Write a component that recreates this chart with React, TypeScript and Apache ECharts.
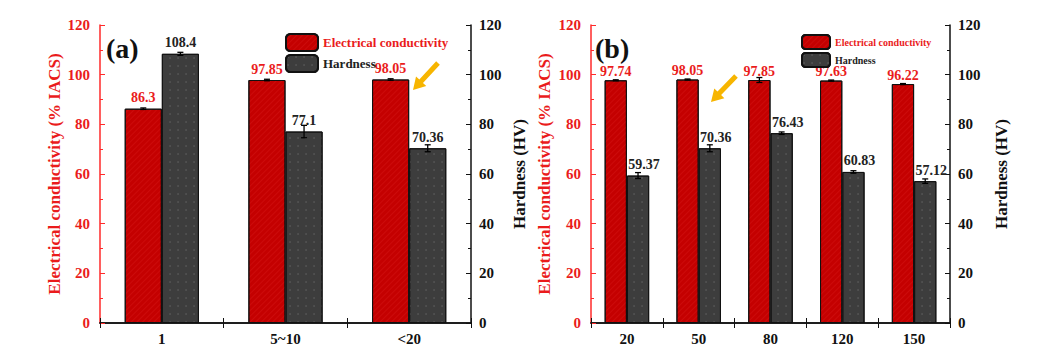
import React, { useEffect, useRef } from "react";
import * as echarts from "echarts";

const catsA = ["1", "5~10", "<20"];
const condA = [86.3, 97.85, 98.05];
const condErrA = [0.3, 0.3, 0.3];
const hardA = [108.4, 77.1, 70.36];
const hardErrA = [0.6, 2.5, 1.4];

const catsB = ["20", "50", "80", "120", "150"];
const condB = [97.74, 98.05, 97.85, 97.63, 96.22];
const condErrB = [0.2, 0.2, 1.0, 0.2, 0.2];
const hardB = [59.37, 70.36, 76.43, 60.83, 57.12];
const hardErrB = [1.2, 1.4, 0.5, 0.5, 0.9];

const yMin = 0;
const yMax = 120;
const yStep = 20;

const SERIF = "'Liberation Serif', 'Times New Roman', serif";
const RED_TXT = "#ea1c1c";
const RED_BAR = "#c40000";
const GREY_BAR = "#3d3d3d";

function arrowPoints(tx: number, ty: number, hx: number, hy: number) {
  const dx = hx - tx, dy = hy - ty;
  const L = Math.hypot(dx, dy);
  const ux = dx / L, uy = dy / L;
  const px = -uy, py = ux;
  const sw = 2.5, hw = 7, hl = 12;
  const bx = hx - ux * hl, by = hy - uy * hl;
  return [
    [tx + px * sw, ty + py * sw],
    [bx + px * sw, by + py * sw],
    [bx + px * hw, by + py * hw],
    [hx, hy],
    [bx - px * hw, by - py * hw],
    [bx - px * sw, by - py * sw],
    [tx - px * sw, ty - py * sw],
  ];
}

function mkErr(side: number, ratio: number) {
  return (params: any, api: any) => {
    const i = api.value(0), v = api.value(1), e = api.value(2);
    const c = api.coord([i, v]);
    const band = api.size([1, 0])[0];
    const x = c[0] + (side * band * ratio) / 2;
    const top = api.coord([i, v + e])[1];
    const bot = api.coord([i, v - e])[1];
    const cap = 3;
    const st = { stroke: "#000", lineWidth: 1.3 };
    return {
      type: "group",
      children: [
        { type: "line", shape: { x1: x, y1: top, x2: x, y2: bot }, style: st },
        { type: "line", shape: { x1: x - cap, y1: top, x2: x + cap, y2: top }, style: st },
        { type: "line", shape: { x1: x - cap, y1: bot, x2: x + cap, y2: bot }, style: st },
      ],
    };
  };
}

const greyDecal = {
  symbol: "circle",
  symbolSize: 0.35,
  color: "rgba(255,255,255,0.22)",
  dashArrayX: 4,
  dashArrayY: 4,
  rotation: 0,
};
const redDecal = {
  symbol: "rect",
  symbolSize: 1,
  color: "rgba(255,80,80,0.14)",
  dashArrayX: [1, 0],
  dashArrayY: [1, 3],
  rotation: -Math.PI / 4,
};

function yAxisLeft(gridIndex: number, nameGap: number) {
  return {
    type: "value",
    gridIndex,
    position: "left",
    min: yMin,
    max: yMax,
    interval: yStep,
    name: "Electrical conductivity (% IACS)",
    nameLocation: "middle",
    nameGap,
    nameRotate: 90,
    nameTextStyle: { color: RED_TXT, fontFamily: SERIF, fontWeight: "bold", fontSize: 17 },
    axisLine: { show: true, lineStyle: { color: "#ff2a2a", width: 1.5 } },
    axisTick: { show: true, inside: true, length: 5, lineStyle: { color: "#ff2a2a" } },
    minorTick: { show: true, splitNumber: 2, length: 3, lineStyle: { color: "#ff2a2a" } },
    axisLabel: { color: RED_TXT, fontFamily: SERIF, fontWeight: "bold", fontSize: 15, margin: 10 },
    splitLine: { show: false },
  };
}

function yAxisRight(gridIndex: number, nameGap: number) {
  return {
    type: "value",
    gridIndex,
    position: "right",
    min: yMin,
    max: yMax,
    interval: yStep,
    name: "Hardness (HV)",
    nameLocation: "middle",
    nameGap,
    nameRotate: 90,
    nameTextStyle: { color: "#111", fontFamily: SERIF, fontWeight: "bold", fontSize: 17 },
    axisLine: { show: true, lineStyle: { color: "#111", width: 1.5 } },
    axisTick: { show: true, inside: true, length: 5, lineStyle: { color: "#111" } },
    minorTick: { show: true, splitNumber: 2, length: 3, lineStyle: { color: "#111" } },
    axisLabel: { color: "#111", fontFamily: SERIF, fontWeight: "bold", fontSize: 15, margin: 8 },
    splitLine: { show: false },
  };
}

function xAxes(gridIndex: number, cats: string[]) {
  return [
    {
      type: "category",
      gridIndex,
      data: cats,
      position: "bottom",
      axisLine: { show: true, lineStyle: { color: "#111", width: 1.5 } },
      axisTick: { show: true, inside: true, length: 5, lineStyle: { color: "#111" } },
      axisLabel: { color: "#111", fontFamily: SERIF, fontWeight: "bold", fontSize: 15, margin: 8 },
    },
    {
      type: "category",
      gridIndex,
      data: cats,
      position: "top",
      axisLine: { show: true, lineStyle: { color: "#111", width: 1.5 } },
      axisTick: { show: true, inside: true, length: 5, lineStyle: { color: "#111" } },
      axisLabel: { show: false },
    },
  ];
}

function barSeries(
  name: string,
  xi: number,
  yi: number,
  data: number[],
  color: string,
  decal: any,
  labelColor: string,
  bw: string,
  offset: number[],
  distance: number
) {
  return {
    type: "bar",
    name,
    xAxisIndex: xi,
    yAxisIndex: yi,
    data,
    barWidth: bw,
    barGap: "0%",
    itemStyle: { color, borderColor: "#111", borderWidth: 1, decal },
    label: {
      show: true,
      position: "top",
      distance,
      offset,
      color: labelColor,
      fontFamily: SERIF,
      fontWeight: "bold",
      fontSize: 14,
      formatter: (p: any) => String(p.value),
    },
  };
}

function errSeries(xi: number, yi: number, vals: number[], errs: number[], side: number, ratio: number) {
  return {
    type: "custom",
    xAxisIndex: xi,
    yAxisIndex: yi,
    z: 5,
    encode: { x: 0, y: 1 },
    data: vals.map((v, i) => [i, v, errs[i]]),
    renderItem: mkErr(side, ratio),
  };
}

export default function App() {
  const ref = useRef<HTMLDivElement>(null);
  useEffect(() => {
    document.body.style.margin = "0";
    const chart = echarts.init(ref.current!, undefined, { renderer: "svg" });
    const EC = "Electrical conductivity";
    const HD = "Hardness";
    const option: any = {
      animation: false,
      backgroundColor: "#fff",
      aria: { enabled: true, decal: { show: true } },
      grid: [
        { left: 100, right: 567, top: 25, bottom: 33 },
        { left: 591, right: 88, top: 25, bottom: 33 },
      ],
      xAxis: [...xAxes(0, catsA), ...xAxes(1, catsB)],
      yAxis: [yAxisLeft(0, 37), yAxisRight(0, 40), yAxisLeft(1, 38), yAxisRight(1, 43)],
      legend: [
        {
          left: 280,
          top: 28,
          orient: "vertical",
          itemWidth: 32,
          itemHeight: 17,
          itemGap: 2,
          selectedMode: false,
          data: [
            { name: EC, textStyle: { color: RED_TXT } },
            { name: HD, textStyle: { color: "#222" } },
          ],
          textStyle: { fontFamily: SERIF, fontWeight: "bold", fontSize: 13 },
        },
        {
          left: 796,
          top: 29,
          orient: "vertical",
          itemWidth: 28,
          itemHeight: 14,
          itemGap: 2,
          selectedMode: false,
          data: [
            { name: EC + " ", textStyle: { color: RED_TXT } },
            { name: HD + " ", textStyle: { color: "#222" } },
          ],
          textStyle: { fontFamily: SERIF, fontWeight: "bold", fontSize: 10 },
        },
      ],
      series: [
        barSeries(EC, 0, 0, condA, RED_BAR, redDecal, RED_TXT, "30%", [0, 0], 4),
        barSeries(HD, 0, 1, hardA, GREY_BAR, greyDecal, "#222", "30%", [0, 0], 4),
        errSeries(0, 0, condA, condErrA, -1, 0.3),
        errSeries(0, 1, hardA, hardErrA, 1, 0.3),
        barSeries(EC + " ", 2, 2, condB, RED_BAR, redDecal, RED_TXT, "31%", [0, 0], 2),
        barSeries(HD + " ", 2, 3, hardB, GREY_BAR, greyDecal, "#222", "31%", [6, 0], 4),
        errSeries(2, 2, condB, condErrB, -1, 0.31),
        errSeries(2, 3, hardB, hardErrB, 1, 0.31),
      ],
      graphic: [
        {
          type: "text",
          left: 106,
          top: 34,
          style: { text: "(a)", font: `bold 28px ${SERIF}`, fill: "#111" },
        },
        {
          type: "text",
          left: 595,
          top: 34,
          style: { text: "(b)", font: `bold 28px ${SERIF}`, fill: "#111" },
        },
        {
          type: "polygon",
          shape: { points: arrowPoints(438, 63, 413, 90) },
          style: { fill: "#f7b500" },
          z: 20,
        },
        {
          type: "polygon",
          shape: { points: arrowPoints(736, 76, 711, 102) },
          style: { fill: "#f7b500" },
          z: 20,
        },
      ],
    };
    chart.setOption(option);
    return () => chart.dispose();
  }, []);
  return <div ref={ref} style={{ width: 1038, height: 356 }} />;
}
